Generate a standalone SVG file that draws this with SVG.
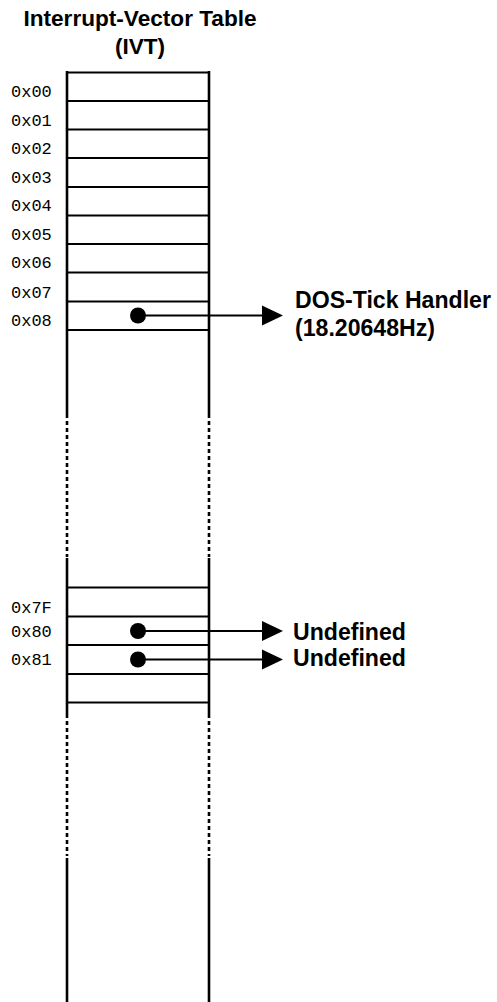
<svg xmlns="http://www.w3.org/2000/svg" width="497" height="1002" viewBox="0 0 497 1002">
<style>
.t{font-family:"Liberation Sans",Arial,sans-serif;font-weight:bold;font-size:22.6px;fill:#000}
.r{font-size:23.1px}
.m{font-family:"Liberation Mono","Courier New",monospace;font-size:17px;fill:#000}
.v{stroke:#000;stroke-width:2.6;fill:none}
.d{stroke:#000;stroke-width:2.6;fill:none;stroke-dasharray:4 3}
.h{stroke:#000;stroke-width:2;fill:none}
.c{stroke:#000;stroke-width:2;fill:none}
</style>
<rect width="497" height="1002" fill="#fff"/>
<g id="title">
<text class="t" x="140" y="26" text-anchor="middle">Interrupt-Vector Table</text>
<text class="t" x="140" y="54" text-anchor="middle">(IVT)</text>
</g>
<g id="table">
<line class="v" x1="67" y1="71" x2="67" y2="418"/>
<line class="v" x1="209" y1="71" x2="209" y2="418"/>
<line class="d" x1="67" y1="421" x2="67" y2="557"/>
<line class="d" x1="209" y1="421" x2="209" y2="557"/>
<line class="v" x1="67" y1="558" x2="67" y2="718"/>
<line class="v" x1="209" y1="558" x2="209" y2="718"/>
<line class="d" x1="67" y1="721" x2="67" y2="856"/>
<line class="d" x1="209" y1="721" x2="209" y2="856"/>
<line class="v" x1="67" y1="858" x2="67" y2="1002"/>
<line class="v" x1="209" y1="858" x2="209" y2="1002"/>
<line class="h" x1="66" y1="72.5" x2="210" y2="72.5"/>
<line class="h" x1="66" y1="101" x2="210" y2="101"/>
<line class="h" x1="66" y1="129.5" x2="210" y2="129.5"/>
<line class="h" x1="66" y1="158" x2="210" y2="158"/>
<line class="h" x1="66" y1="187" x2="210" y2="187"/>
<line class="h" x1="66" y1="215.5" x2="210" y2="215.5"/>
<line class="h" x1="66" y1="244" x2="210" y2="244"/>
<line class="h" x1="66" y1="272.5" x2="210" y2="272.5"/>
<line class="h" x1="66" y1="301.5" x2="210" y2="301.5"/>
<line class="h" x1="66" y1="330" x2="210" y2="330"/>
<line class="h" x1="66" y1="587.5" x2="210" y2="587.5"/>
<line class="h" x1="66" y1="616.5" x2="210" y2="616.5"/>
<line class="h" x1="66" y1="645" x2="210" y2="645"/>
<line class="h" x1="66" y1="674" x2="210" y2="674"/>
<line class="h" x1="66" y1="702.5" x2="210" y2="702.5"/>
</g>
<g id="labels">
<text class="m" x="11" y="97">0x00</text>
<text class="m" x="11" y="125.5">0x01</text>
<text class="m" x="11" y="154">0x02</text>
<text class="m" x="11" y="182.5">0x03</text>
<text class="m" x="11" y="211">0x04</text>
<text class="m" x="11" y="239.5">0x05</text>
<text class="m" x="11" y="268">0x06</text>
<text class="m" x="11" y="297.5">0x07</text>
<text class="m" x="11" y="325.5">0x08</text>
<text class="m" x="11" y="612.5">0x7F</text>
<text class="m" x="11" y="637">0x80</text>
<text class="m" x="11" y="665">0x81</text>
</g>
<g id="connectors">
<circle cx="138" cy="315.5" r="8"/>
<line class="c" x1="138" y1="315.5" x2="264" y2="315.5"/>
<polygon points="262,305.5 283,315.5 262,325.5"/>
<circle cx="138" cy="631" r="8"/>
<line class="c" x1="138" y1="631" x2="264" y2="631"/>
<polygon points="262,621 283,631 262,641"/>
<circle cx="138" cy="659.5" r="8"/>
<line class="c" x1="138" y1="659.5" x2="264" y2="659.5"/>
<polygon points="262,649.5 283,659.5 262,669.5"/>
</g>
<g id="dos-tick">
<text class="t r" x="295" y="307.5">DOS-Tick Handler</text>
<text class="t r" x="295" y="336">(18.20648Hz)</text>
</g>
<g id="undef1"><text class="t r" x="293" y="639.5">Undefined</text></g>
<g id="undef2"><text class="t r" x="293" y="666">Undefined</text></g>
</svg>
